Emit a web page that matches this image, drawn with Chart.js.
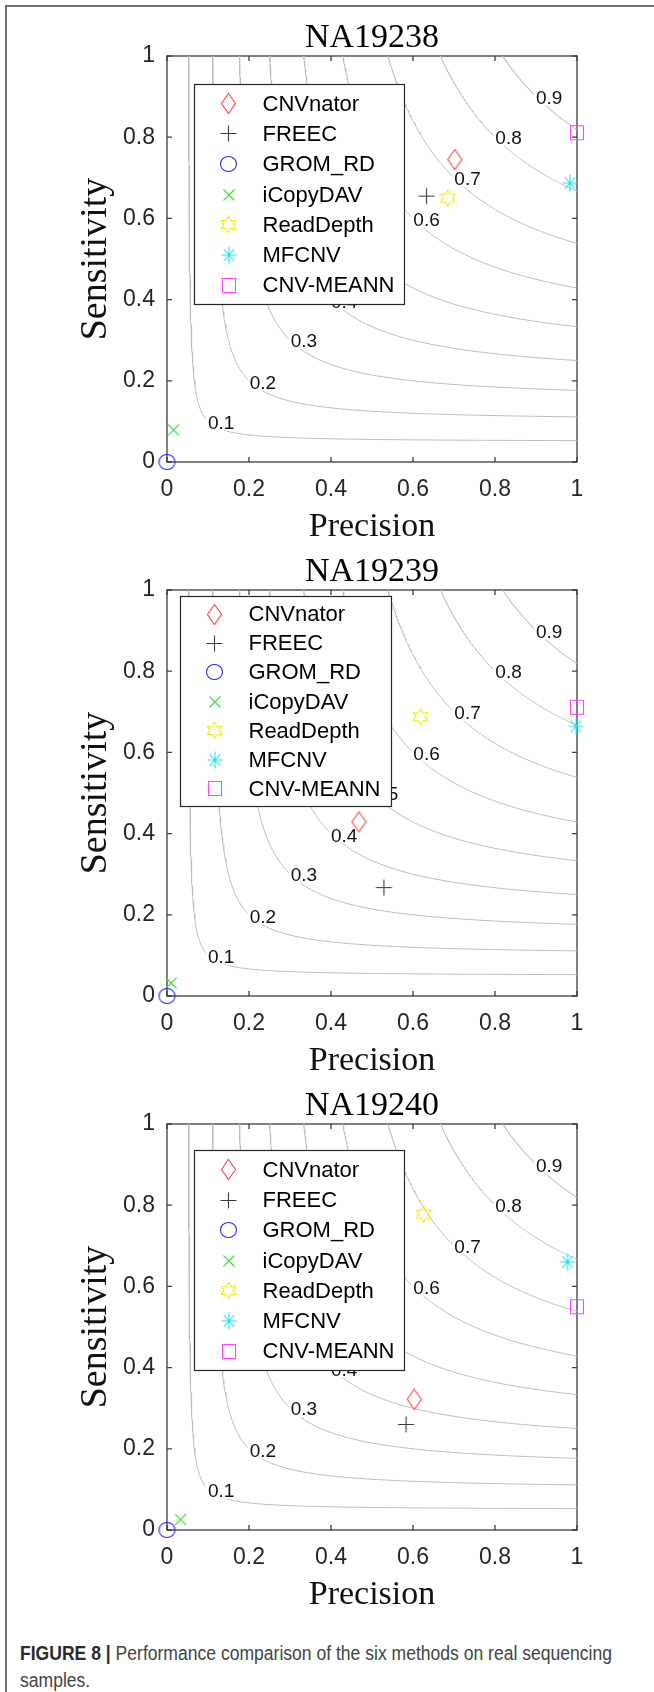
<!DOCTYPE html>
<html>
<head>
<meta charset="utf-8">
<script src="https://cdn.jsdelivr.net/npm/chart.js@4.4.1/dist/chart.umd.min.js"></script>
<style>
  body { margin: 0; background: #fff; width: 654px; height: 1692px; position: relative; overflow: hidden; }
  .frame { position: absolute; left: 5px; top: 5px; width: 700px; height: 1750px; border-top: 2px solid #707070; border-left: 2px solid #707070; }
  .panel { position: absolute; left: 0; width: 654px; height: 550px; }
  #caption { position: absolute; left: 20px; top: 1640px; white-space: nowrap; transform-origin: 0 0;
             font-size: 20px; line-height: 27px; color: #444; font-family: "Liberation Sans Narrow", "Liberation Sans", Arial, sans-serif; }
  #caption b { color: #2a2a2a; }
</style>
</head>
<body>
<div class="frame"></div>
<div class="panel" style="top:0px"><canvas id="chart0" width="654" height="550"></canvas></div>
<div class="panel" style="top:534px"><canvas id="chart1" width="654" height="550"></canvas></div>
<div class="panel" style="top:1068px"><canvas id="chart2" width="654" height="550"></canvas></div>
<div id="caption"><span id="capline"><b>FIGURE 8 |</b> Performance comparison of the six methods on real sequencing</span><br>samples.</div>

<script>
// values
const samples = ['NA19238', 'NA19239', 'NA19240'];
const methods = ['CNVnator', 'FREEC', 'GROM_RD', 'iCopyDAV', 'ReadDepth', 'MFCNV', 'CNV-MEANN'];

const precisionNA19238   = [0.702, 0.633, 0, 0.016, 0.685, 0.983, 1.0];
const sensitivityNA19238 = [0.745, 0.655, 0, 0.079, 0.650, 0.687, 0.811];
const precisionNA19239   = [0.468, 0.529, 0, 0.010, 0.618, 0.998, 1.0];
const sensitivityNA19239 = [0.429, 0.267, 0, 0.032, 0.688, 0.664, 0.711];
const precisionNA19240   = [0.603, 0.583, 0, 0.033, 0.626, 0.977, 1.0];
const sensitivityNA19240 = [0.322, 0.260, 0, 0.026, 0.778, 0.660, 0.550];

// iso F-measure levels and where their labels sit
const fLevels = [0.1, 0.2, 0.3, 0.4, 0.5, 0.6, 0.7, 0.8, 0.9];
const fLabelPrecision   = [0.132, 0.234, 0.334, 0.432, 0.532, 0.633, 0.733, 0.833, 0.932];
const fLabelSensitivity = [0.097, 0.196, 0.298, 0.395, 0.498, 0.597, 0.698, 0.798, 0.897];

const tickValues = [0, 0.2, 0.4, 0.6, 0.8, 1];
const tickLabels = ['0', '0.2', '0.4', '0.6', '0.8', '1'];

const precisions = [precisionNA19238, precisionNA19239, precisionNA19240];
const sensitivities = [sensitivityNA19238, sensitivityNA19239, sensitivityNA19240];

// styles
const markerStyles = [
  {shape: 'diamond',  color: '#ff4545', w: 14, h: 20},
  {shape: 'plus',     color: '#3a3a3a', w: 16, h: 16},
  {shape: 'circle',   color: '#2222ff', w: 16, h: 15},
  {shape: 'cross',    color: '#3cdc3c', w: 11, h: 11},
  {shape: 'hexagram', color: '#ecec10', w: 14, h: 16},
  {shape: 'asterisk', color: '#1ee0ee', w: 15, h: 17},
  {shape: 'square',   color: '#ff44ff', w: 13, h: 14}
];
const legendBoxes = [
  {dx: 27, dy: 28,  w: 210, h: 220, row: 30.3},
  {dx: 13, dy: 5.5, w: 211, h: 210, row: 29.1},
  {dx: 27, dy: 26,  w: 210, h: 220, row: 30.2}
];
const axisColor = '#3c3c3c';
const tickTextColor = '#262626';
const contourColor = '#bdbdbd';
const tickLen = 5;

function makeMarker(s) {
  const c = document.createElement('canvas');
  c.width = s.w + 3; c.height = s.h + 3;
  const g = c.getContext('2d');
  const cx = c.width / 2, cy = c.height / 2, rx = s.w / 2, ry = s.h / 2;
  g.strokeStyle = s.color;
  g.lineWidth = 1.1;
  g.beginPath();
  if (s.shape === 'diamond') {
    g.moveTo(cx, cy - ry); g.lineTo(cx + rx, cy); g.lineTo(cx, cy + ry); g.lineTo(cx - rx, cy); g.closePath();
  } else if (s.shape === 'plus') {
    g.moveTo(cx - rx, cy); g.lineTo(cx + rx, cy); g.moveTo(cx, cy - ry); g.lineTo(cx, cy + ry);
  } else if (s.shape === 'circle') {
    g.ellipse(cx, cy, rx, ry, 0, 0, Math.PI * 2);
  } else if (s.shape === 'cross') {
    g.moveTo(cx - rx, cy - ry); g.lineTo(cx + rx, cy + ry); g.moveTo(cx + rx, cy - ry); g.lineTo(cx - rx, cy + ry);
  } else if (s.shape === 'asterisk') {
    const k = Math.SQRT1_2;
    g.moveTo(cx - rx, cy); g.lineTo(cx + rx, cy); g.moveTo(cx, cy - ry); g.lineTo(cx, cy + ry);
    g.moveTo(cx - rx * k, cy - ry * k); g.lineTo(cx + rx * k, cy + ry * k);
    g.moveTo(cx + rx * k, cy - ry * k); g.lineTo(cx - rx * k, cy + ry * k);
  } else if (s.shape === 'hexagram') {
    for (let i = 0; i < 12; i++) {
      const a = (-90 + i * 30) * Math.PI / 180;
      const r = i % 2 ? 1 / Math.sqrt(3) : 1;
      const px = cx + (rx / 0.866) * r * Math.cos(a), py = cy + ry * r * Math.sin(a);
      if (i === 0) g.moveTo(px, py); else g.lineTo(px, py);
    }
    g.closePath();
  } else if (s.shape === 'square') {
    g.rect(cx - rx, cy - ry, s.w, s.h);
  }
  g.stroke();
  return c;
}
const markerImages = markerStyles.map(makeMarker);

// curve of constant F = 2PR/(P+R), split at P = R = f
function isoF(f) {
  const pts = [];
  const n = 80;
  for (let i = 0; i <= n; i++) {
    const r = 1 - (1 - f) * i / n;
    pts.push({x: f * r / (2 * r - f), y: r});
  }
  for (let i = 1; i <= n; i++) {
    const p = f + (1 - f) * i / n;
    pts.push({x: p, y: f * p / (2 * p - f)});
  }
  return pts;
}

function drawContourLabels(chart) {
  const {ctx, scales: {x, y}} = chart;
  ctx.save();
  ctx.font = '19px "Liberation Sans", Arial, sans-serif';
  ctx.textAlign = 'center';
  ctx.textBaseline = 'middle';
  fLevels.forEach((f, i) => {
    const px = x.getPixelForValue(fLabelPrecision[i]);
    const py = y.getPixelForValue(fLabelSensitivity[i]);
    const txt = String(f);
    const w = ctx.measureText(txt).width;
    ctx.fillStyle = '#fff';
    ctx.fillRect(px - w / 2 - 2, py - 8, w + 4, 16);
    ctx.fillStyle = '#111';
    ctx.fillText(txt, px, py + 1);
  });
  ctx.restore();
}

const matlabAxes = {
  id: 'matlabAxes',
  beforeDatasetsDraw(chart) {
    const {ctx, chartArea: a, scales: {x, y}} = chart;
    ctx.save();
    ctx.strokeStyle = axisColor;
    ctx.lineWidth = 1.3;
    ctx.strokeRect(a.left, a.top, a.right - a.left, a.bottom - a.top);
    ctx.beginPath();
    tickValues.forEach(v => {
      const px = x.getPixelForValue(v), py = y.getPixelForValue(v);
      ctx.moveTo(px, a.bottom); ctx.lineTo(px, a.bottom - tickLen);
      ctx.moveTo(px, a.top); ctx.lineTo(px, a.top + tickLen);
      ctx.moveTo(a.left, py); ctx.lineTo(a.left + tickLen, py);
      ctx.moveTo(a.right, py); ctx.lineTo(a.right - tickLen, py);
    });
    ctx.stroke();
    ctx.restore();
    chart.$labelsDone = false;
  },
  beforeDatasetDraw(chart, args) {
    if (chart.data.datasets[args.index].kind === 'marker' && !chart.$labelsDone) {
      drawContourLabels(chart);
      chart.$labelsDone = true;
    }
  },
  afterDatasetsDraw(chart, args, opts) {
    if (!chart.$labelsDone) drawContourLabels(chart);
    const {ctx, chartArea: a} = chart;
    const L = opts.box;
    const left = Math.round(a.left + L.dx) + 0.5, top = Math.round(a.top + L.dy) + 0.5;
    ctx.save();
    ctx.fillStyle = '#fff';
    ctx.fillRect(left, top, L.w, L.h);
    ctx.strokeStyle = '#262626';
    ctx.lineWidth = 1.2;
    ctx.strokeRect(left, top, L.w, L.h);
    const first = top + (L.h - (methods.length - 1) * L.row) / 2;
    ctx.font = '22px "Liberation Sans", Arial, sans-serif';
    ctx.textAlign = 'left';
    ctx.textBaseline = 'middle';
    ctx.fillStyle = '#000';
    methods.forEach((m, i) => {
      const cy = first + i * L.row;
      const img = chart.data.datasets[i].pointStyle;
      ctx.drawImage(img, Math.round(left + 34 - img.width / 2), Math.round(cy - img.height / 2));
      ctx.fillText(chart.data.datasets[i].label, left + 68, cy + 1);
    });
    ctx.restore();
  }
};

samples.forEach((name, k) => {
  const P = precisions[k], R = sensitivities[k];
  const datasets = methods.map((m, i) => ({
    label: m,
    kind: 'marker',
    data: [{x: P[i], y: R[i]}],
    pointStyle: markerImages[i],
    pointRadius: 8,
    pointHoverRadius: 8,
    clip: false,
    order: 0
  }));
  fLevels.forEach(f => datasets.push({
    label: 'F ' + f,
    kind: 'contour',
    data: isoF(f),
    showLine: true,
    pointRadius: 0,
    borderColor: contourColor,
    borderWidth: 1,
    tension: 0,
    order: 1
  }));

  new Chart(document.getElementById('chart' + k), {
    type: 'scatter',
    data: {datasets: datasets},
    plugins: [matlabAxes],
    options: {
      responsive: false,
      animation: false,
      events: [],
      layout: {padding: {left: 0, right: 77, top: 0, bottom: 4}},
      plugins: {
        legend: {display: false},
        tooltip: {enabled: false},
        title: {
          display: true,
          text: name,
          fullSize: false,
          color: '#000',
          font: {family: '"Liberation Serif", "Times New Roman", serif', size: 34, weight: 'normal', lineHeight: 1},
          padding: {top: 21, bottom: 1}
        },
        matlabAxes: {box: legendBoxes[k]}
      },
      scales: {
        x: {
          type: 'linear', min: 0, max: 1,
          afterBuildTicks: s => { s.ticks = tickValues.map(v => ({value: v})); },
          afterFit: s => { s.height = 84; },
          ticks: {
            callback: (v, i) => tickLabels[i],
            color: tickTextColor,
            font: {family: '"Liberation Sans", Arial, sans-serif', size: 23},
            padding: 14, maxRotation: 0, autoSkip: false
          },
          grid: {display: false, drawTicks: false},
          border: {display: false},
          title: {
            display: true, text: 'Precision', color: '#111',
            font: {family: '"Liberation Serif", "Times New Roman", serif', size: 34, lineHeight: 1},
            padding: {top: 0, bottom: 2.4}
          }
        },
        y: {
          type: 'linear', min: 0, max: 1,
          afterBuildTicks: s => { s.ticks = tickValues.map(v => ({value: v})); },
          afterFit: s => { s.width = 167; },
          ticks: {
            callback: (v, i) => tickLabels[i],
            color: tickTextColor,
            font: {family: '"Liberation Sans", Arial, sans-serif', size: 23},
            padding: 12, autoSkip: false
          },
          grid: {display: false, drawTicks: false},
          border: {display: false},
          title: {
            display: true, text: 'Sensitivity', color: '#111',
            font: {family: '"Liberation Serif", "Times New Roman", serif', size: 38, lineHeight: 1},
            padding: {top: 77, bottom: 0}
          }
        }
      }
    }
  });
});

// fit caption's first line to the width it has in the figure
const cap = document.getElementById('caption');
const lineW = document.getElementById('capline').getBoundingClientRect().width;
cap.style.transform = 'scaleX(' + (592 / lineW) + ')';
</script>
</body>
</html>
